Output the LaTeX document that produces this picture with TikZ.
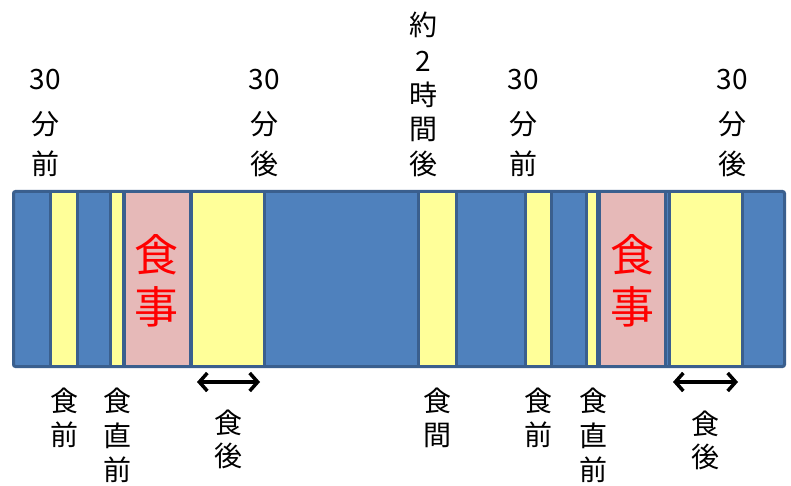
\documentclass[tikz,border=0pt]{standalone}
\usepackage{fontspec}
\setmainfont{Noto Sans CJK JP}
\usetikzlibrary{arrows.meta}
\definecolor{barblue}{HTML}{4F81BD}
\definecolor{barline}{HTML}{3A5F8E}
\definecolor{ylw}{HTML}{FFFF99}
\definecolor{pnk}{HTML}{E6B9B8}
\begin{document}
\begin{tikzpicture}[x=1pt,y=-1pt,
  seg/.style={draw=barline,line width=3pt},
  lbl/.style={inner sep=0pt,anchor=base,font=\fontsize{28}{28}\selectfont},
  meal/.style={inner sep=0pt,anchor=base,text=red,font=\fontsize{44}{44}\selectfont},
  dbl/.style={line width=3.5pt,{Straight Barb[length=8pt,width=18pt]}-{Straight Barb[length=8pt,width=18pt]}}]
\useasboundingbox[fill=white] (0,0) rectangle (791,486);
% bar
\draw[seg,fill=barblue,rounded corners=2pt] (13.5,191.5) rectangle (784.5,366.5);
% segments
\draw[seg,fill=ylw] (50.5,191.5) rectangle (77.5,366.5);
\draw[seg,fill=ylw] (110.5,191.5) rectangle (123.5,366.5);
\draw[seg,fill=pnk] (124.5,191.5) rectangle (190.5,366.5);
\draw[seg,fill=ylw] (191.5,191.5) rectangle (264.5,366.5);
\draw[seg,fill=ylw] (418.5,191.5) rectangle (456.5,366.5);
\draw[seg,fill=ylw] (525.5,191.5) rectangle (551.5,366.5);
\draw[seg,fill=ylw] (586.5,191.5) rectangle (597.5,366.5);
\draw[seg,fill=pnk] (599.5,191.5) rectangle (665.5,366.5);
\draw[seg,fill=ylw] (669.5,191.5) rectangle (742.5,366.5);
% meal labels
\node[meal] (m1a) at (156,271) {食};
\node[meal] (m1b) at (156,323) {事};
\node[meal] (m2a) at (632,271) {食};
\node[meal] (m2b) at (632,323) {事};
% top labels
\foreach \t/\yy [count=\i] in {30/90,分/135,前/175} \node[lbl] (tA\i) at (45,\yy) {\t};
\foreach \t/\yy [count=\i] in {30/90,分/135,後/175} \node[lbl] (tB\i) at (264,\yy) {\t};
\foreach \t/\yy [count=\i] in {約/36,2/72,時/106,間/140,後/175} \node[lbl] (tC\i) at (423,\yy) {\t};
\foreach \t/\yy [count=\i] in {30/90,分/135,前/175} \node[lbl] (tD\i) at (523,\yy) {\t};
\foreach \t/\yy [count=\i] in {30/90,分/135,後/175} \node[lbl] (tE\i) at (732,\yy) {\t};
% bottom labels
\foreach \t/\yy [count=\i] in {食/411,前/445} \node[lbl] (bA\i) at (64,\yy) {\t};
\foreach \t/\yy [count=\i] in {食/411,直/446,前/480} \node[lbl] (bB\i) at (117,\yy) {\t};
\foreach \t/\yy [count=\i] in {食/433,後/466} \node[lbl] (bC\i) at (228,\yy) {\t};
\foreach \t/\yy [count=\i] in {食/411,間/445} \node[lbl] (bD\i) at (437,\yy) {\t};
\foreach \t/\yy [count=\i] in {食/411,前/445} \node[lbl] (bE\i) at (538,\yy) {\t};
\foreach \t/\yy [count=\i] in {食/411,直/446,前/480} \node[lbl] (bF\i) at (593,\yy) {\t};
\foreach \t/\yy [count=\i] in {食/434,後/467} \node[lbl] (bG\i) at (705,\yy) {\t};
% arrows
\coordinate (a1l) at (197,382);
\coordinate (a1r) at (260,382);
\coordinate (a2l) at (673,382);
\coordinate (a2r) at (738,382);
\draw[dbl] (a1l) -- (a1r);
\draw[dbl] (a2l) -- (a2r);
\end{tikzpicture}
\end{document}
